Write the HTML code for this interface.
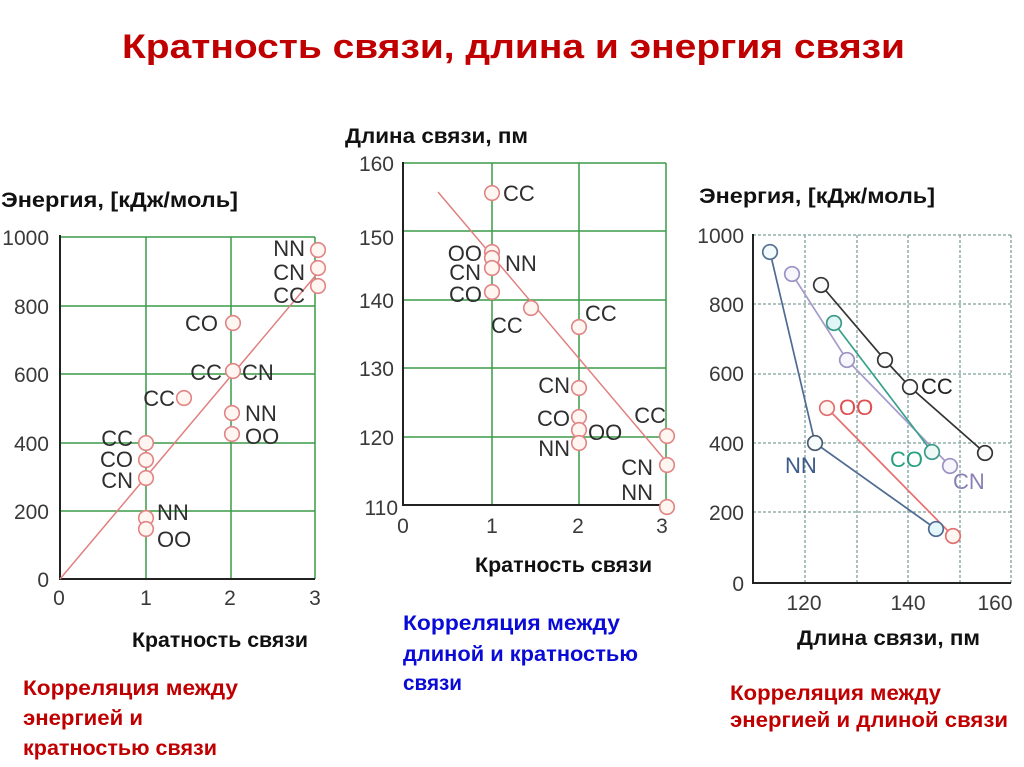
<!DOCTYPE html>
<html>
<head>
<meta charset="utf-8">
<style>
html,body{margin:0;padding:0;background:#fff;}
svg{display:block;}
.t{font-family:"Liberation Sans","Noto Sans CJK SC",sans-serif;font-weight:bold;}
.tk{font-family:"Liberation Sans",sans-serif;font-size:21px;fill:#3a3a3a;}
.lb{font-family:"Liberation Sans",sans-serif;font-size:22px;fill:#2e2e2e;}
.g{stroke:#3c9a48;stroke-width:1.5;fill:none;}
.gd{stroke:#7fa09c;stroke-width:1.3;stroke-dasharray:3 2;fill:none;}
.ax{stroke:#222;stroke-width:2;fill:none;}
.pc{stroke:#e08484;stroke-width:1.6;fill:#fff6f2;}
</style>
</head>
<body>
<svg width="1024" height="767" viewBox="0 0 1024 767" xmlns="http://www.w3.org/2000/svg">
<rect width="1024" height="767" fill="#fff"/>

<!-- Title -->
<text class="t" x="122" y="58" font-size="34" fill="#c00000" textLength="783" lengthAdjust="spacingAndGlyphs">Кратность связи, длина и энергия связи</text>

<!-- ============ CHART 1 ============ -->
<text class="t" x="1" y="207" font-size="21" fill="#111" textLength="237" lengthAdjust="spacingAndGlyphs">Энергия, [кДж/моль]</text>
<g>
<line class="g" x1="146" y1="237" x2="146" y2="579"/>
<line class="g" x1="231" y1="237" x2="231" y2="579"/>
<line class="g" x1="315" y1="237" x2="315" y2="579"/>
<line class="g" x1="60" y1="237" x2="315" y2="237"/>
<line class="g" x1="60" y1="306" x2="315" y2="306"/>
<line class="g" x1="60" y1="374" x2="315" y2="374"/>
<line class="g" x1="60" y1="443" x2="315" y2="443"/>
<line class="g" x1="60" y1="511" x2="315" y2="511"/>
<line class="ax" x1="60" y1="235" x2="60" y2="580"/>
<line class="ax" x1="59" y1="579" x2="315" y2="579"/>
</g>
<g class="tk" text-anchor="end">
<text x="49" y="245">1000</text>
<text x="49" y="314">800</text>
<text x="49" y="382">600</text>
<text x="49" y="451">400</text>
<text x="49" y="519">200</text>
<text x="49" y="587">0</text>
</g>
<g class="tk" text-anchor="middle">
<text x="59" y="605">0</text>
<text x="146" y="605">1</text>
<text x="230" y="605">2</text>
<text x="315" y="605">3</text>
</g>
<line x1="60" y1="579" x2="316" y2="275" stroke="#e08080" stroke-width="1.5"/>
<g>
<circle class="pc" cx="318" cy="250" r="7.3"/>
<circle class="pc" cx="318" cy="268" r="7.3"/>
<circle class="pc" cx="318" cy="286" r="7.3"/>
<circle class="pc" cx="233" cy="323" r="7.3"/>
<circle class="pc" cx="233" cy="371" r="7.3"/>
<circle class="pc" cx="184" cy="398" r="7.3"/>
<circle class="pc" cx="232" cy="413" r="7.3"/>
<circle class="pc" cx="232" cy="434" r="7.3"/>
<circle class="pc" cx="146" cy="443" r="7.3"/>
<circle class="pc" cx="146" cy="460" r="7.3"/>
<circle class="pc" cx="146" cy="478" r="7.3"/>
<circle class="pc" cx="146" cy="518" r="7.3"/>
<circle class="pc" cx="146" cy="529" r="7.3"/>
</g>
<g class="lb">
<text x="305" y="256" text-anchor="end">NN</text>
<text x="305" y="280" text-anchor="end">CN</text>
<text x="305" y="303" text-anchor="end">CC</text>
<text x="218" y="331" text-anchor="end">CO</text>
<text x="222" y="380" text-anchor="end">CC</text>
<text x="242" y="380">CN</text>
<text x="175" y="406" text-anchor="end">CC</text>
<text x="245" y="421">NN</text>
<text x="245" y="444">OO</text>
<text x="133" y="446" text-anchor="end">CC</text>
<text x="133" y="467" text-anchor="end">CO</text>
<text x="133" y="488" text-anchor="end">CN</text>
<text x="157" y="520">NN</text>
<text x="157" y="547">OO</text>
</g>
<text class="t" x="132" y="647" font-size="21" fill="#111" textLength="176" lengthAdjust="spacingAndGlyphs">Кратность связи</text>
<g class="t" font-size="21" fill="#c00000">
<text x="23" y="695" textLength="215" lengthAdjust="spacingAndGlyphs">Корреляция между</text>
<text x="23" y="725" textLength="120" lengthAdjust="spacingAndGlyphs">энергией и</text>
<text x="23" y="755" textLength="194" lengthAdjust="spacingAndGlyphs">кратностью связи</text>
</g>

<!-- ============ CHART 2 ============ -->
<text class="t" x="345" y="143" font-size="21" fill="#111" textLength="183" lengthAdjust="spacingAndGlyphs">Длина связи, пм</text>
<g>
<line class="g" x1="492" y1="163" x2="492" y2="505"/>
<line class="g" x1="579" y1="163" x2="579" y2="505"/>
<line class="g" x1="666" y1="163" x2="666" y2="505"/>
<line class="g" x1="403" y1="163" x2="666" y2="163"/>
<line class="g" x1="403" y1="231" x2="666" y2="231"/>
<line class="g" x1="403" y1="300" x2="666" y2="300"/>
<line class="g" x1="403" y1="368" x2="666" y2="368"/>
<line class="g" x1="403" y1="437" x2="666" y2="437"/>
<line class="ax" x1="403" y1="162" x2="403" y2="506"/>
<line class="ax" x1="402" y1="505" x2="666" y2="505"/>
</g>
<g class="tk" text-anchor="end">
<text x="394" y="171">160</text>
<text x="394" y="245">150</text>
<text x="394" y="308">140</text>
<text x="394" y="376">130</text>
<text x="394" y="445">120</text>
<text x="398" y="515">110</text>
</g>
<g class="tk" text-anchor="middle">
<text x="403" y="533">0</text>
<text x="492" y="533">1</text>
<text x="578" y="533">2</text>
<text x="662" y="533">3</text>
</g>
<line x1="438" y1="192" x2="665" y2="460" stroke="#e08080" stroke-width="1.5"/>
<g>
<circle class="pc" cx="492" cy="193" r="7.3"/>
<circle class="pc" cx="492" cy="252" r="7.3"/>
<circle class="pc" cx="492" cy="258" r="7.3"/>
<circle class="pc" cx="492" cy="268" r="7.3"/>
<circle class="pc" cx="492" cy="292" r="7.3"/>
<circle class="pc" cx="531" cy="308" r="7.3"/>
<circle class="pc" cx="579" cy="327" r="7.3"/>
<circle class="pc" cx="579" cy="388" r="7.3"/>
<circle class="pc" cx="579" cy="417" r="7.3"/>
<circle class="pc" cx="579" cy="430" r="7.3"/>
<circle class="pc" cx="579" cy="443" r="7.3"/>
<circle class="pc" cx="667" cy="436" r="7.3"/>
<circle class="pc" cx="667" cy="465" r="7.3"/>
<circle class="pc" cx="667" cy="507" r="7.3"/>
</g>
<g class="lb">
<text x="503" y="201">CC</text>
<text x="482" y="261" text-anchor="end">OO</text>
<text x="505" y="271">NN</text>
<text x="481" y="280" text-anchor="end">CN</text>
<text x="482" y="302" text-anchor="end">CO</text>
<text x="491" y="333">CC</text>
<text x="585" y="321">CC</text>
<text x="570" y="393" text-anchor="end">CN</text>
<text x="570" y="426" text-anchor="end">CO</text>
<text x="588" y="440">OO</text>
<text x="570" y="456" text-anchor="end">NN</text>
<text x="666" y="423" text-anchor="end">CC</text>
<text x="653" y="475" text-anchor="end">CN</text>
<text x="653" y="500" text-anchor="end">NN</text>
</g>
<text class="t" x="475" y="572" font-size="21" fill="#111" textLength="177" lengthAdjust="spacingAndGlyphs">Кратность связи</text>
<g class="t" font-size="21" fill="#0a0ad6">
<text x="403" y="630" textLength="217" lengthAdjust="spacingAndGlyphs">Корреляция между</text>
<text x="403" y="661" textLength="235" lengthAdjust="spacingAndGlyphs">длиной и кратностью</text>
<text x="403" y="690" textLength="59" lengthAdjust="spacingAndGlyphs">связи</text>
</g>

<!-- ============ CHART 3 ============ -->
<text class="t" x="699" y="203" font-size="21" fill="#111" textLength="236" lengthAdjust="spacingAndGlyphs">Энергия, [кДж/моль]</text>
<g>
<line class="gd" x1="805" y1="235" x2="805" y2="583"/>
<line class="gd" x1="857" y1="235" x2="857" y2="583"/>
<line class="gd" x1="908" y1="235" x2="908" y2="583"/>
<line class="gd" x1="960" y1="235" x2="960" y2="583"/>
<line class="gd" x1="1011" y1="235" x2="1011" y2="583"/>
<line class="gd" x1="753" y1="235" x2="1011" y2="235"/>
<line class="gd" x1="753" y1="304" x2="1011" y2="304"/>
<line class="gd" x1="753" y1="374" x2="1011" y2="374"/>
<line class="gd" x1="753" y1="443" x2="1011" y2="443"/>
<line class="gd" x1="753" y1="512" x2="1011" y2="512"/>
<line class="ax" x1="753" y1="234" x2="753" y2="584"/>
<line class="ax" x1="752" y1="583" x2="1011" y2="583"/>
</g>
<g class="tk" text-anchor="end">
<text x="744" y="243">1000</text>
<text x="744" y="312">800</text>
<text x="744" y="381">600</text>
<text x="744" y="451">400</text>
<text x="744" y="520">200</text>
<text x="744" y="591">0</text>
</g>
<g class="tk" text-anchor="middle">
<text x="804" y="610">120</text>
<text x="908" y="610">140</text>
<text x="995" y="610">160</text>
</g>
<!-- series lines -->
<polyline points="770,252 815,443 936,529" fill="none" stroke="#4f6b92" stroke-width="1.7"/>
<polyline points="792,274 847,360 950,466" fill="none" stroke="#a59bcc" stroke-width="1.7"/>
<polyline points="834,323 932,452" fill="none" stroke="#3aa08a" stroke-width="1.7"/>
<polyline points="821,285 885,360 910,387 985,453" fill="none" stroke="#333" stroke-width="1.7"/>
<polyline points="827,408 953,536" fill="none" stroke="#e87070" stroke-width="1.7"/>
<!-- circles -->
<g stroke-width="1.7">
<circle cx="770" cy="252" r="7.3" stroke="#56708f" fill="#f2fafc"/>
<circle cx="815" cy="443" r="7.3" stroke="#4a5a70" fill="#f6fbfc"/>
<circle cx="936" cy="529" r="7.3" stroke="#4f6b92" fill="#e4f7fa"/>
<circle cx="792" cy="274" r="7.3" stroke="#9c92c2" fill="#f7f6fc"/>
<circle cx="847" cy="360" r="7.3" stroke="#9c92c2" fill="#f7f6fc"/>
<circle cx="950" cy="466" r="7.3" stroke="#9c92c2" fill="#f7f6fc"/>
<circle cx="834" cy="323" r="7.3" stroke="#3a9a88" fill="#e0f6f6"/>
<circle cx="932" cy="452" r="7.3" stroke="#3a9a88" fill="#eef9f6"/>
<circle cx="821" cy="285" r="7.3" stroke="#333" fill="#fbfbfb"/>
<circle cx="885" cy="360" r="7.3" stroke="#333" fill="#fbfbfb"/>
<circle cx="910" cy="387" r="7.3" stroke="#333" fill="#fbfbfb"/>
<circle cx="985" cy="453" r="7.3" stroke="#333" fill="#fbfbfb"/>
<circle cx="827" cy="408" r="7.3" stroke="#e07070" fill="#fff6f2"/>
<circle cx="953" cy="536" r="7.3" stroke="#e07070" fill="#fff6f2"/>
</g>
<g class="lb">
<text x="921" y="394" fill="#222">CC</text>
<text x="839" y="415" fill="#e05050">OO</text>
<text x="785" y="473" fill="#3d5a8a">NN</text>
<text x="890" y="467" fill="#2aa080">CO</text>
<text x="953" y="489" fill="#8a80b8">CN</text>
</g>
<text class="t" x="797" y="645" font-size="21" fill="#111" textLength="183" lengthAdjust="spacingAndGlyphs">Длина связи, пм</text>
<g class="t" font-size="21" fill="#c00000">
<text x="730" y="700" textLength="211" lengthAdjust="spacingAndGlyphs">Корреляция между</text>
<text x="730" y="727" textLength="278" lengthAdjust="spacingAndGlyphs">энергией и длиной связи</text>
</g>
</svg>
</body>
</html>
